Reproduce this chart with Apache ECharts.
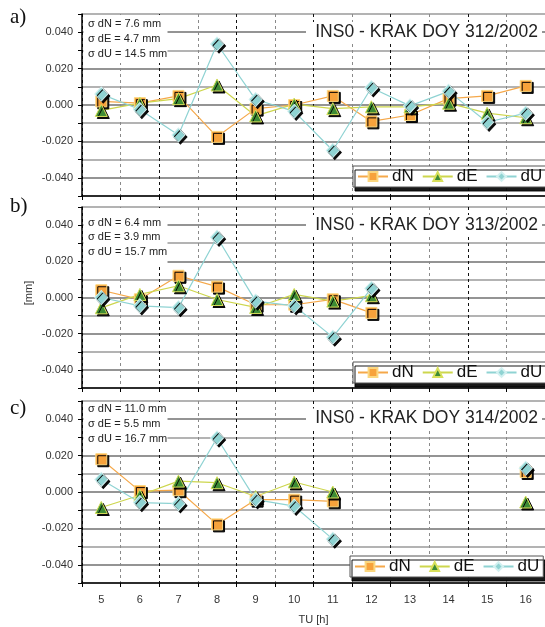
<!DOCTYPE html>
<html>
<head>
<meta charset="utf-8">
<script src="https://cdn.jsdelivr.net/npm/echarts@6/dist/echarts.min.js"></script>
<style>
html,body{margin:0;padding:0;background:#fff;}
#chart{width:545px;height:627px;}
</style>
</head>
<body>
<div id="chart"></div>
<script>
// ---- data ----
const hours = ['5','6','7','8','9','10','11','12','13','14','15','16'];
const yTickLabels = ['-0.040','-0.020','0.000','0.020','0.040'];
const seriesNames = ['dN','dE','dU'];

const panelTitles = ['INS0 - KRAK DOY 312/2002','INS0 - KRAK DOY 313/2002','INS0 - KRAK DOY 314/2002'];
const panelLetters = ['a)','b)','c)'];
const sigmaTexts = [
  ['σ dN = 7.6 mm','σ dE = 4.7 mm','σ dU = 14.5 mm'],
  ['σ dN = 6.4 mm','σ dE = 3.9 mm','σ dU = 15.7 mm'],
  ['σ dN = 11.0 mm','σ dE = 5.5 mm','σ dU = 16.7 mm']
];

// DOY 312
const dN_312 = [0.002, 0.001, 0.005, -0.0175, -0.002, 0.000, 0.005, -0.009, -0.0055, 0.0035, 0.005, 0.0105];
const dE_312 = [-0.003, 0.001, 0.0035, 0.011, -0.006, 0.0005, -0.002, -0.001, -0.001, 0.001, -0.0045, -0.007];
const dU_312 = [0.006, -0.0025, -0.0165, 0.0335, 0.003, -0.0035, -0.025, 0.0095, -0.0005, 0.0075, -0.0095, -0.0045];
// DOY 313
const dN_313 = [0.004, -0.001, 0.012, 0.006, -0.004, -0.004, -0.001, -0.0085, null, null, null, null];
const dE_313 = [-0.0057, 0.0017, 0.0065, -0.0011, -0.0055, 0.0017, -0.002, 0.001, null, null, null, null];
const dU_313 = [0.0, -0.0046, -0.0056, 0.0333, -0.002, -0.0046, -0.0219, 0.005, null, null, null, null];
// DOY 314
const dN_314 = [0.018, 0.0005, 0.001, -0.0178, -0.0042, -0.0042, -0.0051, null, null, null, null, 0.011];
const dE_314 = [-0.0085, -0.0018, 0.006, 0.0051, -0.0025, 0.0055, 0.0, null, null, null, null, -0.0055];
const dU_314 = [0.0069, -0.0058, -0.0064, 0.0297, -0.0042, -0.0078, -0.0259, null, null, null, null, 0.013];

const panelData = [
  [dN_312, dE_312, dU_312],
  [dN_313, dE_313, dU_313],
  [dN_314, dE_314, dU_314]
];

// ---- layout / style ----
const FONT = '"Liberation Sans", Arial, sans-serif';
const grids = [
  {top: 14, height: 182},
  {top: 207, height: 181},
  {top: 401, height: 182}
];
const styles = [
  {symbol: 'rect', size: 11, fill: '#f7a23b', border: '#fbd77f', line: '#f5a84a'},
  {symbol: 'triangle', size: 12, fill: '#3d8b35', border: '#d8e05a', line: '#cdd64d'},
  {symbol: 'diamond', size: [13, 14], fill: '#8fd3d2', border: '#d2f0f0', line: '#8fd3d3'}
];
const titleY = [32, 225, 418.5];
const letterY = [17, 206, 408];
const sigmaY = [[24, 39, 54], [222.7, 237, 251.7], [409, 424.3, 439.3]];
const sigmaBox = [[15, 63], [208, 266], [402, 447]];
const legendTop = [166, 362, 556];
const legendLeft = [353, 353, 350];

const chart = echarts.init(document.getElementById('chart'), null, {renderer: 'canvas'});

const gridOpt = grids.map(g => ({left: 82, right: -1, top: g.top, height: g.height, containLabel: false}));

const xAxes = grids.map((g, i) => ({
  type: 'category', gridIndex: i, data: hours, boundaryGap: true,
  axisLine: {show: true, onZero: false, lineStyle: {color: '#000', width: 1.5}},
  axisTick: {show: true, interval: 0, length: 4, lineStyle: {color: '#000'}},
  axisLabel: {show: i === 2, interval: 0, color: '#333', fontSize: 11, fontFamily: FONT, margin: 11},
  splitLine: {show: true, interval: 0, lineStyle: {color: ['#111', '#8a8a8a'], type: [3, 3], width: 1}},
  name: i === 2 ? 'TU [h]' : '', nameLocation: 'middle', nameGap: 31,
  nameTextStyle: {color: '#333', fontSize: 11, fontFamily: FONT}
}));

const yAxes = grids.map((g, i) => ({
  type: 'value', gridIndex: i, min: -0.05, max: 0.05, interval: 0.01,
  axisLine: {show: true, onZero: false, lineStyle: {color: '#000', width: 1.5}},
  axisTick: {show: true, length: 4, lineStyle: {color: '#000'}},
  axisLabel: {
    color: '#333', fontSize: 11, fontFamily: FONT, margin: 9,
    formatter: v => {
      const s = (Math.round(v * 1000) / 1000).toFixed(3);
      const t = s === '-0.000' ? '0.000' : s;
      return yTickLabels.indexOf(t) >= 0 ? t : '';
    }
  },
  splitLine: {show: true, lineStyle: {color: ['#9a9a9a', '#707070'], width: 1.6}}
}));

const series = [];
panelData.forEach((arrs, pi) => {
  arrs.forEach((arr, si) => {
    const st = styles[si];
    series.push({
      type: 'line', name: seriesNames[si], xAxisIndex: pi, yAxisIndex: pi,
      data: arr, symbol: st.symbol, symbolSize: st.size,
      showSymbol: true, showAllSymbol: true, connectNulls: false,
      lineStyle: {color: st.line, width: 1.2},
      itemStyle: {color: st.fill, borderColor: st.border, borderWidth: 1,
        shadowColor: 'rgba(0,0,0,0.95)', shadowOffsetX: 2, shadowOffsetY: 2, shadowBlur: 0},
      emphasis: {disabled: true},
      animation: false
    });
  });
});

const legends = grids.map((g, i) => ({
  left: legendLeft[i], top: legendTop[i], orient: 'horizontal', width: 260,
  data: seriesNames,
  itemWidth: 30, itemHeight: 11, itemGap: 8,
  padding: [2, 4, 2, 4],
  backgroundColor: '#fff', borderColor: '#555', borderWidth: 1,
  shadowColor: 'rgba(0,0,0,0.9)', shadowOffsetX: 2, shadowOffsetY: 4, shadowBlur: 0,
  textStyle: {fontSize: 17, color: '#111', fontFamily: FONT, padding: [0, 0, 0, -1]},
  itemStyle: {shadowBlur: 0, shadowColor: 'transparent', shadowOffsetX: 0, shadowOffsetY: 0},
  selectedMode: false
}));

const graphics = [];
grids.forEach((g, i) => {
  graphics.push({type: 'text', z: 5, style: {text: panelLetters[i], x: 10, y: letterY[i],
    textVerticalAlign: 'middle', font: '21px "Liberation Serif", "Times New Roman", serif', fill: '#111'}});
  graphics.push({type: 'rect', z: 1, shape: {x: 306, y: titleY[i] - 10, width: 236, height: 20},
    style: {fill: '#fff'}});
  graphics.push({type: 'text', z: 1, style: {text: panelTitles[i], x: 538, y: titleY[i],
    textAlign: 'right', textVerticalAlign: 'middle', font: '17.5px ' + FONT, fill: '#222'}});
  graphics.push({type: 'rect', z: 1, shape: {x: 83.5, y: sigmaBox[i][0], width: 84, height: sigmaBox[i][1] - sigmaBox[i][0]},
    style: {fill: '#fff'}});
  sigmaTexts[i].forEach((t, k) => {
    graphics.push({type: 'text', z: 1, style: {text: t, x: 88, y: sigmaY[i][k],
      textVerticalAlign: 'middle', font: '11px ' + FONT, fill: '#222'}});
  });
});
graphics.push({type: 'text', z: 5, x: 29, y: 293, rotation: Math.PI / 2,
  style: {text: '[mm]', x: 0, y: 0, textAlign: 'center', textVerticalAlign: 'middle', font: '11px ' + FONT, fill: '#333'}});

chart.setOption({
  animation: false,
  backgroundColor: '#fff',
  grid: gridOpt,
  xAxis: xAxes,
  yAxis: yAxes,
  legend: legends,
  series: series,
  graphic: {elements: graphics}
});
</script>
</body>
</html>
